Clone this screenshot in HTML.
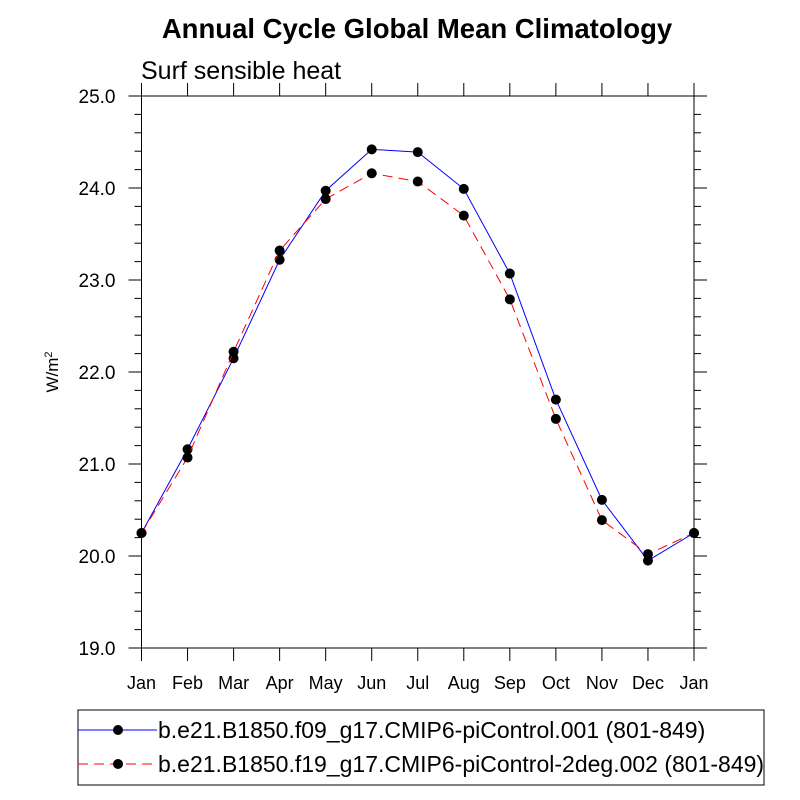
<!DOCTYPE html>
<html><head><meta charset="utf-8"><style>body{margin:0;background:#fff}svg{display:block;font-family:"Liberation Sans",sans-serif}</style></head>
<body>
<svg id="chart" width="800" height="800" viewBox="0 0 800 800">
<text x="417" y="38" text-anchor="middle" font-size="27.5" font-weight="bold">Annual Cycle Global Mean Climatology</text>
<text x="141" y="79" font-size="25">Surf sensible heat</text>
<text transform="translate(58,372) rotate(-90)" text-anchor="middle" font-size="17">W/m<tspan dy="-6" font-size="11">2</tspan></text>
<g id="axes"></g>
<g id="series"></g>
<g>
<rect x="78" y="710" width="686" height="75" fill="none" stroke="#000" stroke-width="1"/>
<line x1="78" y1="730" x2="157" y2="730" stroke="#00f" stroke-width="1"/>
<circle cx="118" cy="730" r="5" fill="#000"/>
<text x="158" y="738" font-size="23">b.e21.B1850.f09_g17.CMIP6-piControl.001 (801-849)</text>
<line x1="78" y1="764" x2="157" y2="764" stroke="#f00" stroke-width="1" stroke-dasharray="10,6"/>
<circle cx="118" cy="764" r="5" fill="#000"/>
<text x="158" y="772" font-size="23">b.e21.B1850.f19_g17.CMIP6-piControl-2deg.002 (801-849)</text>
</g>
</svg>
<script>
const months=["Jan","Feb","Mar","Apr","May","Jun","Jul","Aug","Sep","Oct","Nov","Dec","Jan"];
const yTicks=[19,20,21,22,23,24,25];
const seriesF09=[20.25,21.16,22.15,23.22,23.97,24.42,24.39,23.99,23.07,21.70,20.61,19.95,20.25];
const seriesF19=[20.25,21.07,22.22,23.32,23.88,24.16,24.07,23.70,22.79,21.49,20.39,20.02,20.25];
const X0=141.5,X1=694,Y0=648,Y1=96,ymin=19,ymax=25;
const sx=i=>X0+i*(X1-X0)/(months.length-1);
const sy=v=>Y0-(v-ymin)*(Y0-Y1)/(ymax-ymin);
const NS="http://www.w3.org/2000/svg";
function mk(t,a,p){const e=document.createElementNS(NS,t);for(const k in a)e.setAttribute(k,a[k]);p.appendChild(e);return e;}
const ax=document.getElementById('axes');
const frame=mk('rect',{x:X0,y:Y1,width:X1-X0,height:Y0-Y1,fill:'none',stroke:'#000','stroke-width':1},ax);


for(let v=ymin;v<=ymax+1e-9;v+=0.2){const maj=Math.abs(v-Math.round(v))<1e-6;const L=maj?13:7;const y=sy(v);
mk('line',{x1:X0-L,y1:y,x2:X0,y2:y,stroke:'#000'},ax);mk('line',{x1:X1,y1:y,x2:X1+L,y2:y,stroke:'#000'},ax);}
yTicks.forEach(v=>{const t=mk('text',{x:X0-26,y:sy(v)+7,'text-anchor':'end','font-size':19},ax);t.textContent=v.toFixed(1);

});
months.forEach((m,i)=>{const x=sx(i);mk('line',{x1:x,y1:Y0,x2:x,y2:Y0+13,stroke:'#000'},ax);mk('line',{x1:x,y1:Y1-13,x2:x,y2:Y1,stroke:'#000'},ax);
const t=mk('text',{x:x,y:689,'text-anchor':'middle','font-size':18},ax);t.textContent=m;

});
const sg=document.getElementById('series');
function draw(vals,color,dash,name){const g=mk('g',{},sg);


mk('polyline',{points:vals.map((v,i)=>sx(i)+','+sy(v)).join(' '),fill:'none',stroke:color,'stroke-width':1,'stroke-dasharray':dash},g);
vals.forEach((v,i)=>{const c=mk('circle',{cx:sx(i),cy:sy(v),r:5,fill:'#000'},g);

});}
draw(seriesF09,'#00f','none','series-f09');
draw(seriesF19,'#f00','10,6','series-f19');
</script>
</body></html>
